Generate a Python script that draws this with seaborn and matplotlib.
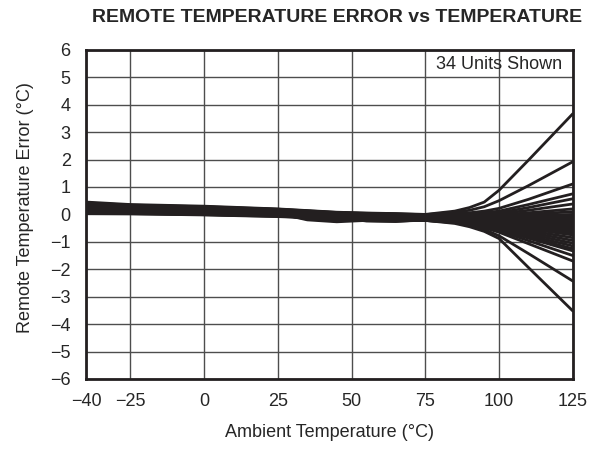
import pandas as pd
import matplotlib.pyplot as plt
import seaborn as sns

temps = [-40, -25, 0, 25, 35, 45, 55, 65, 75, 85, 90, 95, 100, 110, 125]

# error (deg C) for the 34 units
units = [
    [0.45, 0.36, 0.30, 0.20, 0.14, 0.08, 0.05, 0.03, 0.00, 0.12, 0.25, 0.45, 0.88, 1.98, 3.67],
    [0.42, 0.34, 0.28, 0.19, 0.13, 0.07, 0.04, 0.02, -0.01, 0.08, 0.15, 0.28, 0.50, 1.05, 1.92],
    [0.40, 0.33, 0.27, 0.18, 0.12, 0.06, 0.03, 0.01, -0.02, 0.02, 0.06, 0.12, 0.22, 0.55, 1.11],
    [0.38, 0.31, 0.26, 0.17, 0.11, 0.05, 0.02, 0.00, -0.03, 0.00, 0.02, 0.06, 0.12, 0.36, 0.75],
    [0.36, 0.30, 0.25, 0.16, 0.10, 0.04, 0.01, -0.01, -0.04, -0.02, 0.00, 0.03, 0.06, 0.25, 0.57],
    [0.35, 0.29, 0.24, 0.15, 0.09, 0.03, 0.00, -0.02, -0.05, -0.03, -0.02, 0.00, 0.02, 0.15, 0.38],
    [0.33, 0.28, 0.23, 0.14, 0.08, 0.02, -0.01, -0.03, -0.06, -0.04, -0.04, -0.03, -0.02, 0.06, 0.20],
    [0.32, 0.27, 0.22, 0.13, 0.07, 0.01, -0.02, -0.04, -0.07, -0.05, -0.05, -0.05, -0.05, 0.00, 0.10],
    [0.30, 0.26, 0.21, 0.12, 0.06, 0.00, -0.03, -0.05, -0.08, -0.06, -0.07, -0.07, -0.08, -0.05, 0.00],
    [0.29, 0.25, 0.20, 0.11, 0.05, -0.01, -0.04, -0.06, -0.09, -0.07, -0.08, -0.09, -0.10, -0.08, -0.05],
    [0.28, 0.24, 0.19, 0.06, -0.16, -0.24, -0.16, -0.07, -0.10, -0.08, -0.09, -0.10, -0.12, -0.11, -0.10],
    [0.26, 0.22, 0.18, 0.10, 0.04, -0.02, -0.05, -0.07, -0.10, -0.09, -0.10, -0.12, -0.14, -0.14, -0.15],
    [0.25, 0.21, 0.17, 0.09, 0.03, -0.03, -0.06, -0.08, -0.11, -0.10, -0.11, -0.13, -0.16, -0.18, -0.20],
    [0.24, 0.20, 0.16, 0.04, -0.20, -0.27, -0.22, -0.10, -0.12, -0.11, -0.12, -0.15, -0.18, -0.21, -0.25],
    [0.22, 0.19, 0.15, 0.08, 0.02, -0.04, -0.07, -0.09, -0.12, -0.12, -0.14, -0.17, -0.20, -0.25, -0.30],
    [0.21, 0.18, 0.14, 0.07, 0.01, -0.05, -0.08, -0.10, -0.13, -0.13, -0.15, -0.18, -0.22, -0.28, -0.35],
    [0.20, 0.17, 0.13, 0.06, 0.00, -0.06, -0.09, -0.11, -0.14, -0.14, -0.16, -0.20, -0.24, -0.31, -0.40],
    [0.19, 0.16, 0.12, 0.02, -0.17, -0.24, -0.18, -0.12, -0.15, -0.15, -0.17, -0.21, -0.26, -0.35, -0.45],
    [0.18, 0.15, 0.11, 0.05, -0.01, -0.07, -0.10, -0.12, -0.15, -0.16, -0.18, -0.23, -0.28, -0.38, -0.50],
    [0.17, 0.14, 0.10, 0.04, -0.02, -0.08, -0.11, -0.13, -0.16, -0.17, -0.20, -0.25, -0.30, -0.41, -0.55],
    [0.16, 0.13, 0.09, 0.03, -0.03, -0.12, -0.24, -0.26, -0.19, -0.18, -0.21, -0.26, -0.32, -0.44, -0.60],
    [0.15, 0.12, 0.08, 0.02, -0.04, -0.09, -0.12, -0.14, -0.17, -0.19, -0.22, -0.28, -0.34, -0.47, -0.65],
    [0.14, 0.11, 0.07, 0.01, -0.05, -0.10, -0.13, -0.15, -0.18, -0.20, -0.23, -0.29, -0.36, -0.50, -0.70],
    [0.13, 0.10, 0.06, 0.00, -0.06, -0.11, -0.13, -0.15, -0.18, -0.21, -0.24, -0.30, -0.38, -0.53, -0.75],
    [0.12, 0.10, 0.05, -0.01, -0.06, -0.11, -0.14, -0.16, -0.19, -0.22, -0.26, -0.33, -0.41, -0.59, -0.85],
    [0.11, 0.09, 0.05, -0.02, -0.07, -0.14, -0.23, -0.25, -0.21, -0.23, -0.27, -0.35, -0.44, -0.65, -0.95],
    [0.10, 0.08, 0.04, -0.03, -0.08, -0.12, -0.15, -0.17, -0.20, -0.24, -0.29, -0.37, -0.47, -0.71, -1.05],
    [0.09, 0.07, 0.03, -0.03, -0.08, -0.13, -0.15, -0.17, -0.20, -0.25, -0.30, -0.39, -0.50, -0.77, -1.15],
    [0.08, 0.06, 0.02, -0.04, -0.09, -0.13, -0.16, -0.18, -0.21, -0.26, -0.31, -0.41, -0.53, -0.83, -1.25],
    [0.07, 0.05, 0.01, -0.05, -0.10, -0.14, -0.16, -0.18, -0.21, -0.27, -0.32, -0.43, -0.56, -0.87, -1.33],
    [0.06, 0.05, 0.00, -0.05, -0.10, -0.14, -0.17, -0.19, -0.21, -0.28, -0.34, -0.46, -0.60, -0.96, -1.50],
    [0.05, 0.04, 0.00, -0.06, -0.11, -0.15, -0.17, -0.19, -0.22, -0.29, -0.36, -0.49, -0.65, -1.07, -1.70],
    [0.04, 0.03, -0.01, -0.07, -0.11, -0.15, -0.18, -0.20, -0.22, -0.30, -0.40, -0.55, -0.78, -1.43, -2.43],
    [0.03, 0.02, -0.02, -0.08, -0.12, -0.15, -0.18, -0.20, -0.22, -0.33, -0.45, -0.62, -0.88, -1.94, -3.52],
]

xticks = [-40, -25, 0, 25, 50, 75, 100, 125]
yticks = list(range(-6, 7))

# long form for seaborn
rows = []
for i, vals in enumerate(units):
    for t, v in zip(temps, vals):
        rows.append({"unit": i, "temp": t, "err": v})
df = pd.DataFrame(rows)

sns.set_style("white")
plt.rcParams['font.family'] = ['Liberation Sans', 'DejaVu Sans']

fig = plt.figure(figsize=(6.1, 4.49), dpi=100)
ax = fig.add_axes([0.141, 0.156, 0.798, 0.733])

sns.lineplot(data=df, x="temp", y="err", units="unit", estimator=None,
             color="#231f20", linewidth=2, ax=ax, legend=False)

ax.set_xlim(-40, 125)
ax.set_ylim(-6, 6)
ax.set_xticks(xticks)
ax.set_yticks(yticks)
ax.set_xticklabels([str(t).replace("-", "\u2212") for t in xticks], fontsize=13)
ax.set_yticklabels([str(t).replace("-", "\u2212") for t in yticks], fontsize=13)
ax.tick_params(axis="x", length=0, pad=10)
ax.tick_params(axis="y", length=0, pad=11)
ax.grid(True, color="#4d4d4d", linewidth=1)
ax.set_axisbelow(True)
for s in ax.spines.values():
    s.set_color("#231f20")
    s.set_linewidth(2)

ax.set_xlabel("Ambient Temperature (\u00b0C)", fontsize=13)
ax.set_ylabel("Remote Temperature Error (\u00b0C)", fontsize=13)
ax.xaxis.set_label_coords(0.501, -0.164)
ax.xaxis.label.set_va("center")
ax.yaxis.set_label_coords(-0.125, 0.52)
ax.yaxis.label.set_va("center")

ax.text(0.979, 0.954, "34 Units Shown", transform=ax.transAxes, ha="right", va="center",
        fontsize=13)

fig.text(0.553, 0.962, "REMOTE TEMPERATURE ERROR vs TEMPERATURE", ha="center", va="center",
         fontsize=14, fontweight="bold")

fig.savefig("out.png", dpi=100)
